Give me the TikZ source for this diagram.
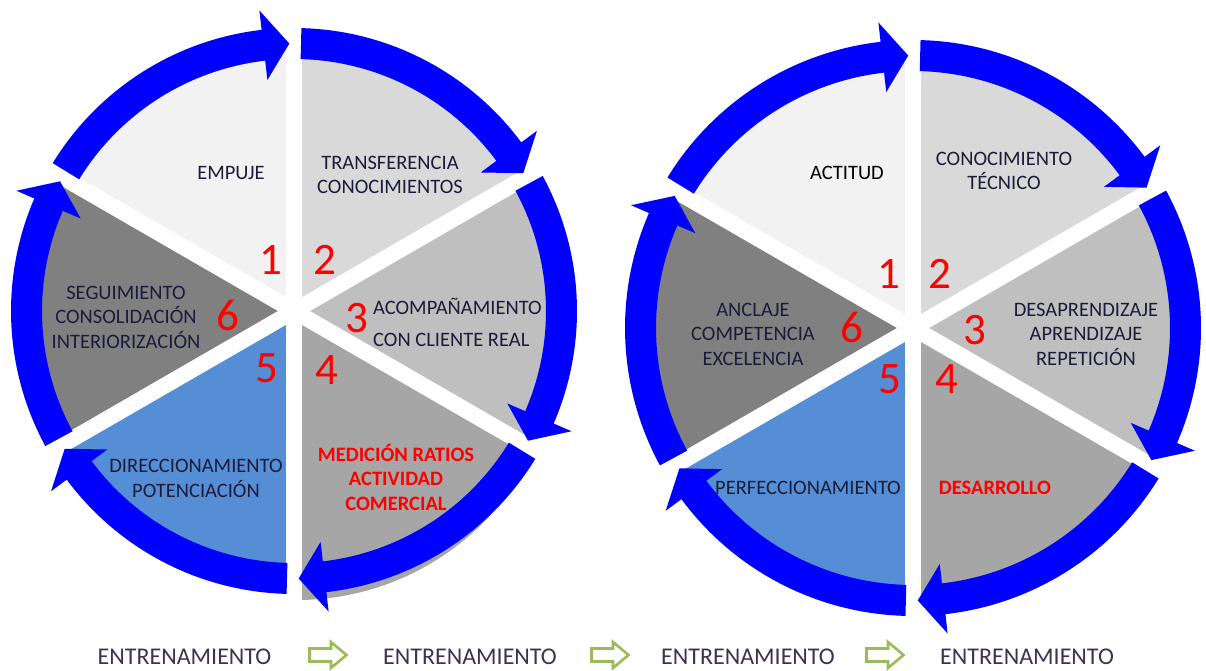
\documentclass[tikz,border=0pt]{standalone}
\usepackage{fontspec}
\setmainfont{Carlito}
\definecolor{wA}{HTML}{F2F2F2}
\definecolor{wB}{HTML}{D9D9D9}
\definecolor{wC}{HTML}{BFBFBF}
\definecolor{wD}{HTML}{A6A6A6}
\definecolor{wE}{HTML}{558ED5}
\definecolor{wF}{HTML}{808080}
\definecolor{arrowblue}{HTML}{0000FF}
\definecolor{navytext}{HTML}{1C1C3A}
\definecolor{redtext}{HTML}{FF0000}
\definecolor{botpurple}{HTML}{3F3151}
\definecolor{arrgreen}{HTML}{9BBB59}
\newcommand\CircArrow[3]{%
  \pgfmathsetmacro\arcRm{#1}%
  \pgfmathsetmacro\arcRo{#1+15.5}%
  \pgfmathsetmacro\arcRi{#1-15.5}%
  \pgfmathsetmacro\arcHo{#1+35}%
  \pgfmathsetmacro\arcHi{#1-35}%
  \pgfmathsetmacro\arcHb{#3+26/#1*180/pi}%
  \fill[arrowfill] (#2:\arcRo) arc[start angle=#2, end angle=\arcHb, radius=\arcRo]
    -- (\arcHb:\arcHo) -- (#3:\arcRm) -- (\arcHb:\arcHi) -- (\arcHb:\arcRi)
    arc[start angle=\arcHb, end angle=#2, radius=\arcRi] -- cycle;
}
\begin{document}
\begin{tikzpicture}[x=1pt,y=1pt,
  lbl/.style={inner sep=0pt, text=navytext, font=\fontsize{20.5}{24.5}\selectfont, align=center},
  redlbl/.style={inner sep=0pt, text=redtext, font=\bfseries\fontsize{20.5}{24.5}\selectfont, align=center},
  num/.style={inner sep=0pt, text=redtext, font=\fontsize{45}{45}\selectfont},
  bottomlbl/.style={inner sep=0pt, text=botpurple, font=\fontsize{24}{28}\selectfont},
  gapline/.style={white, line width=16pt},
  arrowfill/.style={fill=arrowblue},
  greenarrow/.style={draw=arrgreen, line width=2.6pt, fill=white, line join=miter},
  hollowarr/.pic={\path[greenarrow] (-18.5,-6.5) -- (3,-6.5) -- (3,-13) -- (18.5,0) -- (3,13) -- (3,6.5) -- (-18.5,6.5) -- cycle;}
]
\fill[white] (0,0) rectangle (1206,670);
\useasboundingbox (0,0) rectangle (1206,670);

% ---------------- left cycle ----------------
\begin{scope}[shift={(294,359)}]
  \fill[wD] (3,-26) -- ++(-30:263) arc[start angle=-30, end angle=-90, radius=263] -- cycle;
  \fill[wA] (0,0) -- (150:263) arc[start angle=150, end angle=90, radius=263] -- cycle;
  \fill[wB] (0,0) -- (90:263) arc[start angle=90, end angle=30, radius=263] -- cycle;
  \fill[wC] (0,0) -- (30:263) arc[start angle=30, end angle=-30, radius=263] -- cycle;
  \fill[wD] (0,0) -- (-30:263) arc[start angle=-30, end angle=-90, radius=263] -- cycle;
  \fill[wE] (0,0) -- (-90:263) arc[start angle=-90, end angle=-150, radius=263] -- cycle;
  \fill[wF] (0,0) -- (-150:263) arc[start angle=-150, end angle=-210, radius=263] -- cycle;
  \foreach \g in {90,30,-30,-90,-150,150} \draw[gapline] (0,0) -- (\g:300);
  \CircArrow{267.5}{148.5}{91}
  \CircArrow{267.5}{88.5}{31}
  \CircArrow{267.5}{28.5}{-29}
  \CircArrow{267.5}{-31.5}{-89}
  \CircArrow{267.5}{-91.5}{-149}
  \CircArrow{267.5}{-151.5}{-209}
\end{scope}

\node[lbl] (l1) at (231,497) {EMPUJE};
\node[lbl] (l2) at (390,495) {TRANSFERENCIA\\CONOCIMIENTOS};
\node[lbl, align=left, anchor=west, font=\fontsize{20.5}{32}\selectfont] (l3) at (373,348) {ACOMPAÑAMIENTO\\CON CLIENTE REAL};
\node[redlbl] (l4) at (396,193) {MEDICIÓN RATIOS\\ACTIVIDAD\\COMERCIAL};
\node[lbl] (l5) at (196,191.5) {DIRECCIONAMIENTO\\POTENCIACIÓN};
\node[lbl] (l6) at (126,353) {SEGUIMIENTO\\CONSOLIDACIÓN\\INTERIORIZACIÓN};
\node[num] (n1) at (271,410) {1};
\node[num] (n2) at (325,410) {2};
\node[num] (n3) at (357,352) {3};
\node[num] (n4) at (327,300) {4};
\node[num] (n5) at (267,302) {5};
\node[num] (n6) at (228,355) {6};

% ---------------- right cycle ----------------
\begin{scope}[shift={(913,342)}]
  \fill[wA] (0,0) -- (150:267) arc[start angle=150, end angle=90, radius=267] -- cycle;
  \fill[wB] (0,0) -- (90:267) arc[start angle=90, end angle=30, radius=267] -- cycle;
  \fill[wC] (0,0) -- (30:267) arc[start angle=30, end angle=-30, radius=267] -- cycle;
  \fill[wD] (0,0) -- (-30:267) arc[start angle=-30, end angle=-90, radius=267] -- cycle;
  \fill[wE] (0,0) -- (-90:267) arc[start angle=-90, end angle=-150, radius=267] -- cycle;
  \fill[wF] (0,0) -- (-150:267) arc[start angle=-150, end angle=-210, radius=267] -- cycle;
  \foreach \g in {90,30,-30,-90,-150,150} \draw[gapline] (0,0) -- (\g:300);
  \CircArrow{272.5}{148.5}{91}
  \CircArrow{272.5}{88.5}{31}
  \CircArrow{272.5}{28.5}{-29}
  \CircArrow{272.5}{-31.5}{-89}
  \CircArrow{272.5}{-91.5}{-149}
  \CircArrow{272.5}{-151.5}{-209}
\end{scope}

\node[lbl, text=black] (r1) at (847,497) {ACTITUD};
\node[lbl] (r2) at (1004,499) {CONOCIMIENTO\\TÉCNICO};
\node[lbl] (r3) at (1086,336) {DESAPRENDIZAJE\\APRENDIZAJE\\REPETICIÓN};
\node[redlbl] (r4) at (995,182) {DESARROLLO};
\node[lbl] (r5) at (808,182) {PERFECCIONAMIENTO};
\node[lbl] (r6) at (753,336) {ANCLAJE\\COMPETENCIA\\EXCELENCIA};
\node[num] (m1) at (889,396) {1};
\node[num] (m2) at (940,396) {2};
\node[num] (m3) at (975,340) {3};
\node[num] (m4) at (947,291) {4};
\node[num] (m5) at (890,291) {5};
\node[num] (m6) at (852,343) {6};

% ---------------- bottom row ----------------
\node[bottomlbl] (b1) at (184.5,13) {ENTRENAMIENTO};
\node[bottomlbl] (b2) at (470,13) {ENTRENAMIENTO};
\node[bottomlbl] (b3) at (748,13) {ENTRENAMIENTO};
\node[bottomlbl] (b4) at (1027,13) {ENTRENAMIENTO};
\pic at (328,15) {hollowarr};
\pic at (610,15) {hollowarr};
\pic at (885,15) {hollowarr};
\end{tikzpicture}
\end{document}
